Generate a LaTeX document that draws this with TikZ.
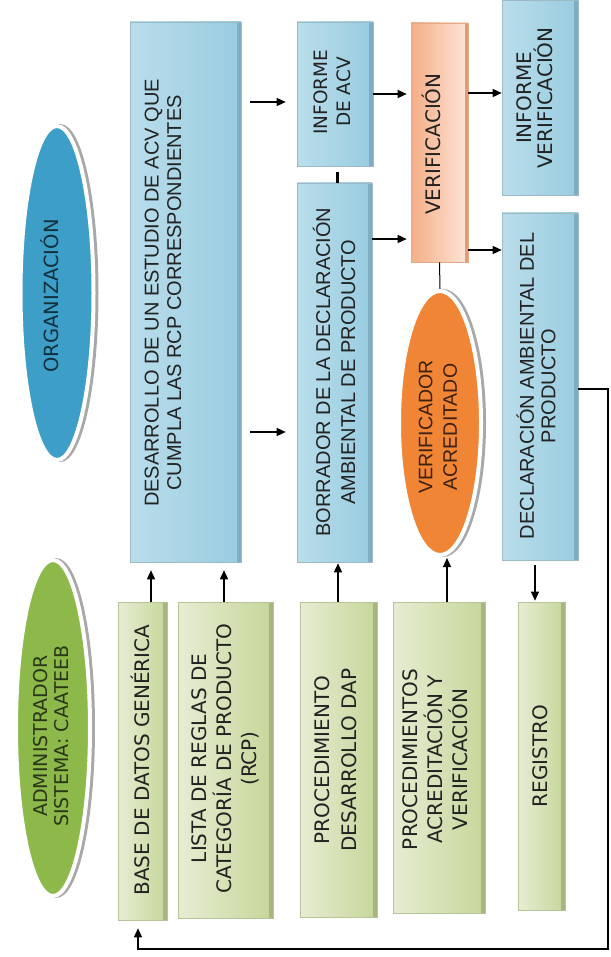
\documentclass[tikz,border=0pt]{standalone}
\usepackage{fontspec}
\usetikzlibrary{arrows.meta,shapes.geometric,calc}
\newfontfamily\vfont{DejaVu Sans}
\newfontfamily\afont{Liberation Sans}
\definecolor{bL}{HTML}{BADDEB}
\definecolor{bM}{HTML}{E4F1F6}
\definecolor{bR}{HTML}{98CCE0}
\definecolor{bE}{HTML}{7FAEC2}
\definecolor{bD}{HTML}{9DB9C6}
\definecolor{gL}{HTML}{E6EDD2}
\definecolor{gM}{HTML}{F7F9F0}
\definecolor{gR}{HTML}{C6D69A}
\definecolor{gE}{HTML}{A7B67E}
\definecolor{gD}{HTML}{B5C29A}
\definecolor{oL}{HTML}{F4AE86}
\definecolor{oM}{HTML}{FAD3BA}
\definecolor{oR}{HTML}{FDE6D8}
\definecolor{oE}{HTML}{E29C74}
\definecolor{oD}{HTML}{E3A988}
\definecolor{eBlue}{HTML}{3D9EC7}
\definecolor{eGreen}{HTML}{8DB84A}
\definecolor{eOrange}{HTML}{F08536}
\definecolor{shad}{HTML}{A8A8A8}
\definecolor{txt}{HTML}{222222}
\tikzset{
  box/.style={rectangle, inner sep=0pt, line width=0.6pt},
  bluebox/.style={box, draw=bD, left color=bL, middle color=bM, right color=bR,
    path picture={\fill[bE] ([xshift=-4pt]path picture bounding box.north east) rectangle (path picture bounding box.south east);}},
  greenbox/.style={box, draw=gD, left color=gL, middle color=gM, right color=gR,
    path picture={\fill[gE] ([xshift=-4pt]path picture bounding box.north east) rectangle (path picture bounding box.south east);}},
  orangebox/.style={box, draw=oD, left color=oL, middle color=oM, right color=oR,
    path picture={\fill[oE] ([xshift=-3pt]path picture bounding box.north east) rectangle (path picture bounding box.south east);}},
  ell/.style={ellipse, inner sep=0pt, draw=white, line width=4pt,
    preaction={draw=shad, fill=shad, line width=4pt, transform canvas={xshift=3pt}}},
  vt/.style={rotate=90, align=center, inner sep=0pt, text=txt},
  vA/.style={vt, font=\afont\fontsize{20}{22.5}\selectfont},
  vV/.style={vt, font=\vfont\fontsize{20}{25}\selectfont},
  arr/.style={-{Triangle[length=9pt,width=8pt]}, line width=1.4pt, black},
  ln/.style={line width=1.2pt, black}
}
\begin{document}
\begin{tikzpicture}[x=1pt,y=-1pt]
\useasboundingbox (0,0) rectangle (610,957);
% ellipses
\node[ell, fill=eBlue, minimum width=73pt, minimum height=334pt] (org) at (57,293) {};
\node[ell, fill=eGreen, minimum width=74pt, minimum height=336pt] (adm) at (53,728) {};
\node[ell, fill=eOrange, minimum width=82pt, minimum height=264pt] (vac) at (440,423) {};
% blue boxes
\node[bluebox, minimum width=111pt, minimum height=540pt] (des) at (185.5,292) {};
\node[bluebox, minimum width=76pt, minimum height=144pt] (iacv) at (335,94) {};
\node[bluebox, minimum width=75pt, minimum height=379pt] (bor) at (334.5,372.5) {};
\node[bluebox, minimum width=76pt, minimum height=195pt] (iver) at (540,97.5) {};
\node[bluebox, minimum width=76pt, minimum height=347pt] (dec) at (540,386.5) {};
% orange box
\node[orangebox, minimum width=57pt, minimum height=239pt] (ver) at (439.5,142.5) {};
% green boxes
\node[greenbox, minimum width=49pt, minimum height=318pt] (base) at (142.5,761) {};
\node[greenbox, minimum width=95pt, minimum height=316pt] (lista) at (225.5,760) {};
\node[greenbox, minimum width=77pt, minimum height=315pt] (pdap) at (338.5,759.5) {};
\node[greenbox, minimum width=92pt, minimum height=311pt] (pacr) at (439,757.5) {};
\node[greenbox, minimum width=47pt, minimum height=308pt] (reg) at (541.5,756) {};
% texts
\node[vt, text=eBlue!30!black, font=\vfont\fontsize{19.5}{22}\selectfont] (t-org) at (50,296) {ORGANIZACIÓN};
\node[vt, text=eGreen!30!black, font=\vfont\fontsize{19}{21}\selectfont] (t-adm) at (51,736) {ADMINISTRADOR\\SISTEMA: CAATEEB};
\node[vA] (t-des) at (163,293) {DESARROLLO DE UN ESTUDIO DE ACV QUE\\CUMPLA LAS RCP CORRESPONDIENTES};
\node[vt, font=\vfont\fontsize{18.5}{23}\selectfont] (t-iacv) at (332,92) {INFORME\\DE ACV};
\node[vA, font=\afont\fontsize{20}{25}\selectfont] (t-bor) at (334,372) {BORRADOR DE LA DECLARACIÓN\\AMBIENTAL DE PRODUCTO};
\node[vt, font=\vfont\fontsize{20}{22}\selectfont] (t-ver) at (431,144) {VERIFICACIÓN};
\node[vt, font=\vfont\fontsize{20}{21}\selectfont] (t-iver) at (535,98) {INFORME\\VERIFICACIÓN};
\node[vA, font=\afont\fontsize{20}{21.5}\selectfont] (t-dec) at (536,386) {DECLARACIÓN AMBIENTAL DEL\\PRODUCTO};
\node[vA, font=\afont\fontsize{19.5}{24.5}\selectfont, text=eOrange!25!black] (t-vac) at (438,427) {VERIFICADOR\\ACREDITADO};
\node[vV] (t-base) at (140,760) {BASE DE DATOS GENÉRICA};
\node[vV] (t-lista) at (225,758.5) {LISTA DE REGLAS DE\\CATEGORÍA DE PRODUCTO\\(RCP)};
\node[vV, font=\vfont\fontsize{20}{27}\selectfont] (t-pdap) at (335.5,760) {PROCEDIMIENTO\\DESARROLLO DAP};
\node[vV] (t-pacr) at (435.5,759.5) {PROCEDIMIENTOS\\ACREDITACIÓN Y\\VERIFICACIÓN};
\node[vV] (t-reg) at (540,756) {REGISTRO};
% connectors
\draw[arr, shorten >=8pt] (base.north -| 151,0) -- (des.south -| 151,0);
\draw[arr, shorten >=8pt] (lista.north -| 224,0) -- (des.south -| 224,0);
\draw[arr, shorten >=1pt] (pdap.north -| 338,0) -- (bor.south -| 338,0);
\draw[arr, shorten >=1pt] (pacr.north -| 447,0) -- (vac.south -| 447,0);
\draw[arr, shorten <=5pt, shorten >=1pt] (dec.south -| 535,0) -- (reg.north -| 535,0);
\draw[arr, shorten <=9pt, shorten >=11pt] (des.east |- 0,102) -- (iacv.west |- 0,102);
\draw[arr, shorten <=9pt, shorten >=11pt] (des.east |- 0,432) -- (bor.west |- 0,432);
\draw[arr, shorten >=4pt] (iacv.east |- 0,94) -- (ver.west |- 0,94);
\draw[arr, shorten >=4pt] (bor.east |- 0,239) -- (ver.west |- 0,239);
\draw[arr] (ver.east |- 0,93) -- (iver.west |- 0,93);
\draw[arr] (ver.east |- 0,250) -- (dec.west |- 0,250);
\draw[line width=3pt, shorten <=6pt] (iacv.south -| 337,0) -- (bor.north -| 337,0);
\draw[line width=1pt] (ver.south) -- (vac.north);
\coordinate (fb) at (608,949);
\draw[arr, line width=1.2pt, shorten >=8pt] (dec.east |- 0,389) -| (fb) -| (base.south -| 138,0);
\end{tikzpicture}
\end{document}
